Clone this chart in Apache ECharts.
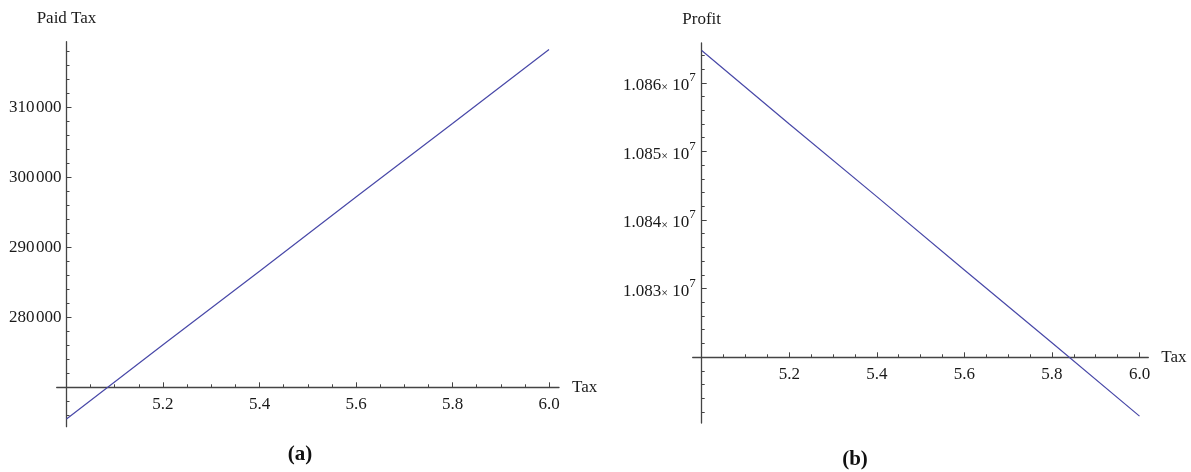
<!DOCTYPE html>
<html>
<head>
<meta charset="utf-8">
<script src="https://cdn.jsdelivr.net/npm/echarts@6/dist/echarts.min.js"></script>
<style>html,body{margin:0;padding:0;background:#fff}#c{width:1191px;height:472px}</style>
</head>
<body>
<div id="c"></div>
<script>
// ---- data ----
const taxValues = [5.0, 5.2, 5.4, 5.6, 5.8, 6.0];
const paidTax = [265500, 276100, 286600, 297200, 307700, 318300];
const profit = [10864700, 10854000, 10843400, 10832700, 10822100, 10811400];
const taxTickLabels = [5.2, 5.4, 5.6, 5.8, 6.0];
const paidTaxTickLabels = [280000, 290000, 300000, 310000];
const profitTickLabels = [10830000, 10840000, 10850000, 10860000];

function steps(a, b, s) { const r = []; for (let v = a; v <= b + s * 1e-6; v += s) r.push(+v.toFixed(6)); return r; }
const taxMinor = steps(5.0, 6.0, 0.05);
const paidMinor = steps(266000, 318000, 2000);
const profitMinor = steps(10812000, 10864000, 2000);

const FONT = 'Liberation Serif';
const TXT = '#1a1a1a';
const AX = '#444';
const lineCol = '#4848a8';

const chart = echarts.init(document.getElementById('c'), null, {renderer: 'canvas'});

function pairs(xs, ys) { return xs.map((x, i) => [x, ys[i]]); }

const axisLineStyle = {show: true, lineStyle: {color: AX, width: 1.3}};

const option = {
  backgroundColor: '#fff',
  animation: false,
  graphic: [
    {type: 'text', x: 300, y: 455, silent: true,
     style: {text: '(a)', font: 'bold 21px "Liberation Serif"', fill: '#111', align: 'center', verticalAlign: 'middle'}},
    {type: 'text', x: 855, y: 460, silent: true,
     style: {text: '(b)', font: 'bold 21px "Liberation Serif"', fill: '#111', align: 'center', verticalAlign: 'middle'}}
  ],
  grid: [
    {left: 66.5, top: 41.7, width: 492.5, height: 385},
    {left: 56.7, top: 377.3, width: 502.3, height: 10},
    {left: 701.7, top: 43, width: 446.6, height: 380},
    {left: 692.7, top: 347.3, width: 455.6, height: 10}
  ],
  xAxis: [
    {gridIndex: 0, type: 'value', min: 5.0, max: 6.0207, show: false},
    {gridIndex: 1, type: 'value', min: 4.9797, max: 6.0207, position: 'bottom',
     axisLine: axisLineStyle,
     axisTick: {show: true, inside: true, length: 5, customValues: taxTickLabels.concat([5.0]), lineStyle: {color: AX, width: 1}},
     axisLabel: {show: true, customValues: taxTickLabels, margin: 9, fontFamily: FONT, fontSize: 17, color: TXT,
                 formatter: v => v.toFixed(1)},
     splitLine: {show: false},
     name: 'Tax', nameLocation: 'end', nameGap: 13,
     nameTextStyle: {fontFamily: FONT, fontSize: 17, color: TXT}},
    {gridIndex: 1, type: 'value', min: 4.9797, max: 6.0207, position: 'bottom',
     axisLine: {show: false},
     axisTick: {show: true, inside: true, length: 3, customValues: taxMinor, lineStyle: {color: AX, width: 1}},
     axisLabel: {show: false}, splitLine: {show: false}},
    {gridIndex: 2, type: 'value', min: 5.0, max: 6.0201, show: false},
    {gridIndex: 3, type: 'value', min: 4.9794, max: 6.0201, position: 'bottom',
     axisLine: axisLineStyle,
     axisTick: {show: true, inside: true, length: 5, customValues: taxTickLabels.concat([5.0]), lineStyle: {color: AX, width: 1}},
     axisLabel: {show: true, customValues: taxTickLabels, margin: 9, fontFamily: FONT, fontSize: 17, color: TXT,
                 formatter: v => v.toFixed(1)},
     splitLine: {show: false},
     name: 'Tax', nameLocation: 'end', nameGap: 13,
     nameTextStyle: {fontFamily: FONT, fontSize: 17, color: TXT}},
    {gridIndex: 3, type: 'value', min: 4.9794, max: 6.0201, position: 'bottom',
     axisLine: {show: false},
     axisTick: {show: true, inside: true, length: 3, customValues: taxMinor, lineStyle: {color: AX, width: 1}},
     axisLabel: {show: false}, splitLine: {show: false}}
  ],
  yAxis: [
    {gridIndex: 0, type: 'value', min: 264400, max: 319400, position: 'left',
     axisLine: axisLineStyle,
     axisTick: {show: true, inside: true, length: 5, customValues: paidTaxTickLabels, lineStyle: {color: AX, width: 1}},
     axisLabel: {show: true, customValues: paidTaxTickLabels, margin: 5, fontFamily: FONT, fontSize: 17, color: TXT,
                 formatter: v => String(v).replace(/(\d{3})$/, '\u200A$1')},
     splitLine: {show: false},
     name: 'Paid Tax', nameLocation: 'end', nameGap: 15,
     nameTextStyle: {fontFamily: FONT, fontSize: 17, color: TXT}},
    {gridIndex: 0, type: 'value', min: 264400, max: 319400, position: 'left',
     axisLine: {show: false},
     axisTick: {show: true, inside: true, length: 3, customValues: paidMinor, lineStyle: {color: AX, width: 1}},
     axisLabel: {show: false}, splitLine: {show: false}},
    {gridIndex: 1, type: 'value', min: 0, max: 1, show: false},
    {gridIndex: 2, type: 'value', min: 10810400, max: 10865800, position: 'left',
     axisLine: axisLineStyle,
     axisTick: {show: true, inside: true, length: 5, customValues: profitTickLabels, lineStyle: {color: AX, width: 1}},
     axisLabel: {show: true, customValues: profitTickLabels, margin: 6, color: TXT,
                 formatter: v => '{m|' + (v / 1e7).toFixed(3) + '}{t|×}{m| 10}{s|7}',
                 rich: {
                   m: {fontFamily: FONT, fontSize: 17, color: TXT, lineHeight: 23, verticalAlign: 'bottom'},
                   t: {fontFamily: FONT, fontSize: 12, color: TXT, lineHeight: 23, verticalAlign: 'bottom'},
                   s: {fontFamily: FONT, fontSize: 13, color: TXT, lineHeight: 12, verticalAlign: 'top'}
                 }},
     splitLine: {show: false},
     name: 'Profit', nameLocation: 'end', nameGap: 15,
     nameTextStyle: {fontFamily: FONT, fontSize: 17, color: TXT}},
    {gridIndex: 2, type: 'value', min: 10810400, max: 10865800, position: 'left',
     axisLine: {show: false},
     axisTick: {show: true, inside: true, length: 3, customValues: profitMinor, lineStyle: {color: AX, width: 1}},
     axisLabel: {show: false}, splitLine: {show: false}},
    {gridIndex: 3, type: 'value', min: 0, max: 1, show: false}
  ],
  series: [
    {type: 'line', xAxisIndex: 0, yAxisIndex: 0, data: pairs(taxValues, paidTax), showSymbol: false, symbol: 'none',
     clip: false, lineStyle: {color: lineCol, width: 1.2}, silent: true},
    {type: 'line', xAxisIndex: 3, yAxisIndex: 3, data: pairs(taxValues, profit), showSymbol: false, symbol: 'none',
     clip: false, lineStyle: {color: lineCol, width: 1.2}, silent: true}
  ]
};
chart.setOption(option);
</script>
</body>
</html>
